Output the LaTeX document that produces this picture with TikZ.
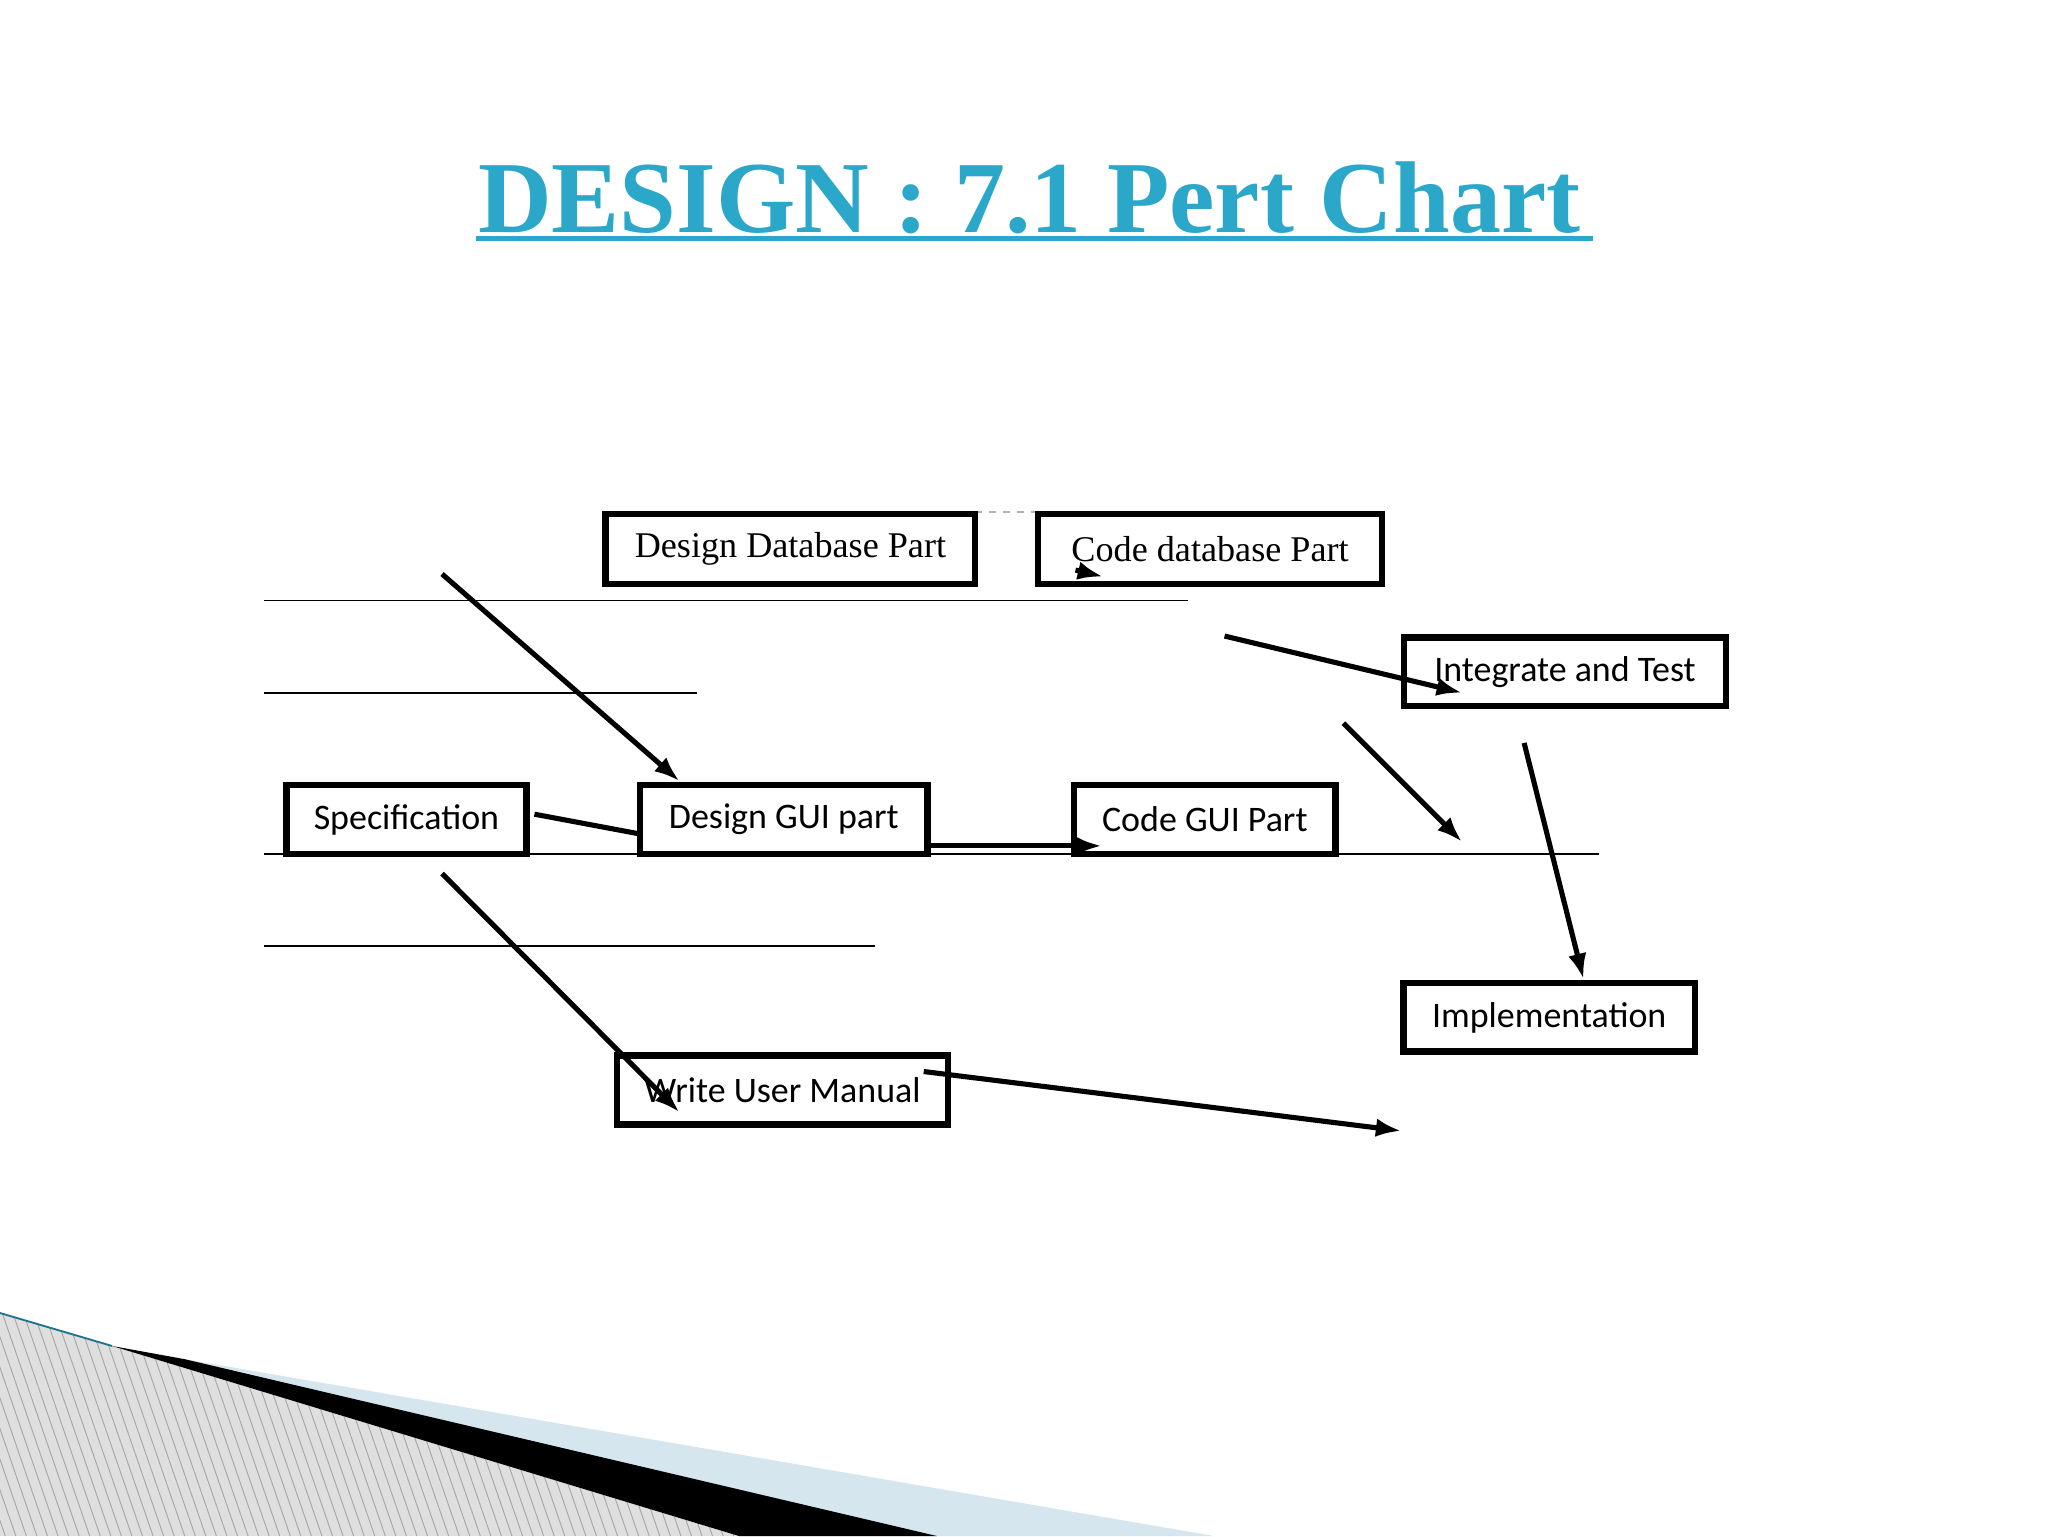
\documentclass[tikz,border=0pt]{standalone}
\usepackage{fontspec}
\setmainfont{Liberation Serif}
\newfontfamily\boxsans{Carlito}
\usetikzlibrary{arrows.meta}
\definecolor{ttl}{HTML}{2AA7C9}
\definecolor{lblue}{HTML}{D6E6EE}
\begin{document}
\begin{tikzpicture}[x=0.02cm,y=-0.02cm,
  bx/.style={draw,line width=2.8pt,inner sep=0pt,anchor=center},
  sf/.style={font=\boxsans\fontsize{15.5}{18}\selectfont},
  rf/.style={font=\fontsize{15.6}{18}\selectfont},
  arr/.style={line width=2.2pt,-{Latex[length=11pt,width=8pt]}},
  thin/.style={line width=0.7pt}]
\useasboundingbox (0,0) rectangle (1552,1164);
\fill[white] (0,0) rectangle (1552,1164);
% bottom decoration
\begin{scope}
\clip (0,995) -- (85,1020) -- (560,1164) -- (0,1164) -- cycle;
\fill[gray!25] (0,990) rectangle (600,1164);
\foreach \i in {-200,-192,...,600} \draw[gray!70,line width=0.4pt] (\i,990) -- (\i+60,1164);
\end{scope}
\fill[lblue] (140,1030) -- (920,1164) -- (700,1164) -- cycle;
\fill[black] (85,1020) -- (140,1030) -- (710,1164) -- (560,1164) -- cycle;
\draw[ttl!70!black,line width=0.8pt] (0,995) -- (85,1020);
% title
\node (title) at (780,150) {\fontsize{44}{52}\selectfont\bfseries\color{ttl}DESIGN : 7.1 Pert Chart};
\draw[ttl,line width=2.2pt] (361,181) -- (1207,181);
% thin lines
\draw[thin] (200,455) coordinate(l1a) -- (900,455) coordinate(l1b);
\draw[thin] (200,525) coordinate(l2a) -- (528,525) coordinate(l2b);
\draw[thin] (200,647) coordinate(l3a) -- (1212,647) coordinate(l3b);
\draw[thin] (200,717) coordinate(l4a) -- (663,717) coordinate(l4b);
\draw[gray!60,dashed,line width=0.5pt] (739,388) -- (787,388);
% boxes
\node[bx,rf,minimum width=5.6cm,minimum height=1.06cm] (ddb) at (599,416) {Design Database Part};
\node[bx,rf,minimum width=5.22cm,minimum height=1.06cm] (cdb) at (917,416) {Code database Part};
\node[bx,sf,minimum width=4.88cm,minimum height=1.04cm] (it) at (1186,509) {Integrate and Test};
\node[bx,sf,minimum width=3.64cm,minimum height=1.04cm] (spec) at (308,621) {Specification};
\node[bx,sf,minimum width=4.36cm,minimum height=1.04cm] (dgui) at (594,621) {Design GUI part};
\node[bx,sf,minimum width=3.96cm,minimum height=1.04cm] (cgui) at (913,621) {Code GUI Part};
\node[bx,sf,minimum width=4.42cm,minimum height=1.04cm] (impl) at (1174,771) {Implementation};
\node[bx,sf,minimum width=5.02cm,minimum height=1.04cm] (wum) at (593,826) {Write User Manual};
% arrows
\draw[arr] (335,435) -- (515,592);
\draw[line width=2.2pt] (405,617) -- (485,632);
\draw[arr] (dgui.east |- 0,641) -- (835,641);
\draw[arr] (815,432) -- (836,437);
\draw[arr] (928,482) -- (1108,525);
\draw[arr] (1018,548) -- (1108,638);
\draw[arr] (1155,563) -- (1200,742);
\draw[arr] (335,662) -- (515,843);
\draw[arr] (700,812) -- (1062,857);
\end{tikzpicture}
\end{document}
